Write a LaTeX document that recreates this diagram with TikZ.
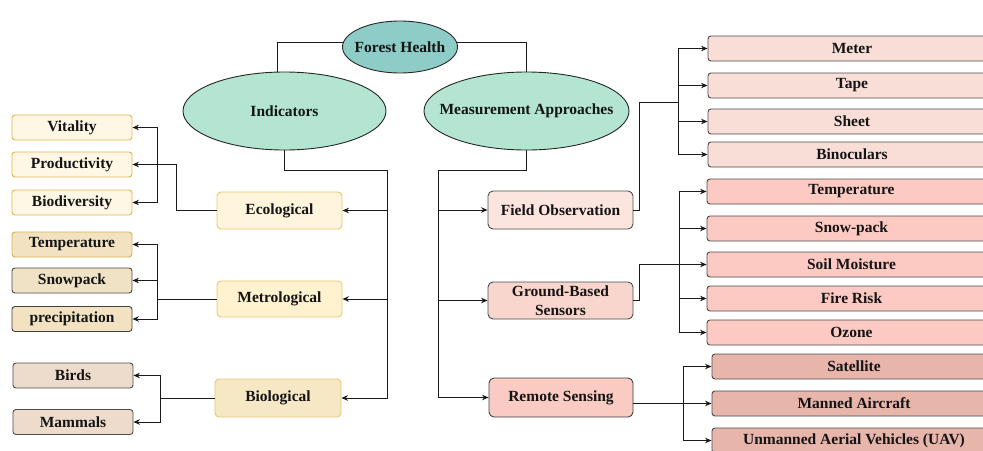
\documentclass[tikz,border=0pt]{standalone}
\usepackage{fontspec}
\setmainfont{Liberation Serif}
\usetikzlibrary{arrows.meta,shapes.geometric}
\definecolor{cFH}{HTML}{8ECCC7}
\definecolor{cEll}{HTML}{B3E5D2}
\definecolor{cEco}{HTML}{FFF5DC}
\definecolor{cEcoB}{HTML}{E9C76E}
\definecolor{cMet}{HTML}{FFF2CF}
\definecolor{cBio}{HTML}{F6E7C5}
\definecolor{cVit}{HTML}{FEF7E6}
\definecolor{cVitB}{HTML}{E8B449}
\definecolor{cLT}{HTML}{F2E2C2}
\definecolor{cLTB}{HTML}{DDB050}
\definecolor{cSnow}{HTML}{EFE2C5}
\definecolor{cBird}{HTML}{EDDCCB}
\definecolor{cFO}{HTML}{FCE5DE}
\definecolor{cGB}{HTML}{F9D6CD}
\definecolor{cRS}{HTML}{F9CBC2}
\definecolor{cGa}{HTML}{F9DED8}
\definecolor{cGb}{HTML}{FCCAC2}
\definecolor{cGc}{HTML}{E8B5AB}
\definecolor{cLine}{HTML}{1A1A1A}
\begin{document}
\begin{tikzpicture}[x=1pt,y=-1pt,
  base/.style={font=\fontsize{15.5}{18.5}\selectfont\bfseries, text=black!92, inner sep=0pt, align=center},
  ell/.style={base, ellipse, draw=black!85, line width=0.9pt},
  box/.style={base, rectangle, rounded corners=4pt, line width=0.9pt},
  leaf/.style={box, minimum width=120, minimum height=25, rounded corners=3pt},
  mid/.style={box, minimum height=37},
  rbox/.style={box, minimum height=25, rounded corners=3pt, draw=black!70},
  conn/.style={draw=cLine, line width=1pt},
  arr/.style={conn, -{Stealth[length=6.5pt,width=5.5pt]}}
]
\useasboundingbox (0,0) rectangle (983,450);
\clip (0,0) rectangle (983,450);

% top level
\node[ell, fill=cFH, minimum width=115, minimum height=52] (fh) at (400,47) {\makebox[0pt]{Forest Health}};
\node[ell, fill=cEll, minimum width=203, minimum height=78] (ind) at (284.5,111) {\makebox[0pt]{Indicators}};
\node[ell, fill=cEll, minimum width=205, minimum height=78] (ma) at (526.5,111) {\makebox[0pt]{Measurement Approaches}};

% indicator categories
\node[mid, fill=cEco, draw=cEcoB, minimum width=125] (eco) at (279.5,210.5) {Ecological};
\node[mid, fill=cMet, draw=cEcoB, minimum width=125, minimum height=36] (met) at (279.5,299) {Metrological};
\node[mid, fill=cBio, draw=cEcoB, minimum width=126, minimum height=38] (biol) at (278,398) {Biological};

% left leaves
\node[leaf, fill=cVit, draw=cVitB] (vit) at (72,127.5) {Vitality};
\node[leaf, fill=cVit, draw=cVitB] (prod) at (72,164.5) {Productivity};
\node[leaf, fill=cVit, draw=cVitB] (biod) at (72,202.5) {Biodiversity};
\node[leaf, fill=cLT, draw=cLTB] (ltemp) at (72,244.5) {Temperature};
\node[leaf, fill=cSnow, draw=black!70] (snow) at (72,280.5) {Snowpack};
\node[leaf, fill=cLT, draw=black!75] (precip) at (72,319) {precipitation};
\node[leaf, fill=cBird, draw=black!70] (birds) at (73,375.5) {Birds};
\node[leaf, fill=cBird, draw=black!70] (mamm) at (73,422) {Mammals};

% measurement categories
\node[mid, fill=cFO, draw=black!70, minimum width=145, minimum height=38, rounded corners=5pt] (fo) at (560.5,210) {Field Observation};
\node[mid, fill=cGB, draw=black!70, minimum width=145, rounded corners=5pt] (gb) at (560.5,300.5) {Ground-Based\\Sensors};
\node[mid, fill=cRS, draw=black!75, minimum width=144, minimum height=39, rounded corners=5pt] (rs) at (561,397.5) {Remote Sensing};

% right leaves
\node[rbox, fill=cGa, minimum width=288] (meter) at (852,48.5) {Meter};
\node[rbox, fill=cGa, minimum width=288] (tape) at (852,85.5) {Tape};
\node[rbox, fill=cGa, minimum width=288] (sheet) at (852,121.5) {Sheet};
\node[rbox, fill=cGa, minimum width=288] (bino) at (852,154.5) {Binoculars};
\node[rbox, fill=cGb, minimum width=289] (stemp) at (851.5,191.5) {Temperature};
\node[rbox, fill=cGb, minimum width=289] (snowp) at (851.5,228.5) {Snow-pack};
\node[rbox, fill=cGb, minimum width=289] (soil) at (851.5,264.5) {Soil Moisture};
\node[rbox, fill=cGb, minimum width=289] (fire) at (851.5,298.5) {Fire Risk};
\node[rbox, fill=cGb, minimum width=289] (ozone) at (851.5,332.5) {Ozone};
\node[rbox, fill=cGc, minimum width=284] (sat) at (854,366.5) {Satellite};
\node[rbox, fill=cGc, minimum width=284] (man) at (854,403.5) {Manned Aircraft};
\node[rbox, fill=cGc, minimum width=284] (uav) at (854,440.5) {Unmanned Aerial Vehicles (UAV)};

% bus coordinates
\coordinate (ibx) at (387,170);
\coordinate (mbx) at (438,170);
\coordinate (ebx) at (157,0);
\coordinate (mtx) at (157,0);
\coordinate (btx) at (160,0);
\coordinate (fo1) at (639,102);
\coordinate (fbx) at (678,102);
\coordinate (gb1) at (639,264.5);
\coordinate (gbx) at (679,0);
\coordinate (rbx) at (683,0);

% top connectors
\draw[conn] (fh.175) -| (ind.100);
\draw[conn] (fh.5) -| (ma.north);

% indicators
\draw[arr] (ind.south) |- (ibx) |- (biol.east);
\draw[arr] (ibx |- eco.east) -- (eco.east);
\draw[arr] (ibx |- met.east) -- (met.east);

% ecological
\draw[arr] (eco.west) -- ++(-40,0) |- (prod.east);
\draw[arr] (ebx |- prod.east) |- (vit.east);
\draw[arr] (ebx |- prod.east) |- (biod.east);

% metrological
\draw[conn] (met.west) -- (mtx |- met.west);
\draw[arr] (mtx |- met.west) |- (ltemp.east);
\draw[arr] (mtx |- met.west) |- (precip.east);
\draw[arr] (mtx |- snow.east) -- (snow.east);

% biological
\draw[conn] (biol.west) -- (btx |- biol.west);
\draw[arr] (btx |- biol.west) |- (birds.east);
\draw[arr] (btx |- biol.west) |- (mamm.east);

% measurement approaches
\draw[arr] (ma.south) |- (mbx) |- (rs.west);
\draw[arr] (mbx |- fo.west) -- (fo.west);
\draw[arr] (mbx |- gb.west) -- (gb.west);

% field observation
\draw[conn] (fo.east) -| (fo1) -- (fbx);
\draw[arr] (fbx) |- (meter.west);
\draw[arr] (fbx) |- (bino.west);
\draw[arr] (fbx |- tape.west) -- (tape.west);
\draw[arr] (fbx |- sheet.west) -- (sheet.west);

% ground-based sensors
\draw[conn] (gbx |- stemp.west) -- (gbx |- ozone.west);
\draw[arr] (gbx |- stemp.west) -- (stemp.west);
\draw[arr] (gbx |- snowp.west) -- (snowp.west);
\draw[arr] (gbx |- fire.west) -- (fire.west);
\draw[arr] (gbx |- ozone.west) -- (ozone.west);
\draw[arr] (gb.east) -| (gb1) -- (soil.west);

% remote sensing
\draw[arr] (man.west -| rs.east) -- (man.west);
\draw[arr] (rbx |- man.west) |- (sat.west);
\draw[arr] (rbx |- man.west) |- (uav.west);
\end{tikzpicture}
\end{document}
